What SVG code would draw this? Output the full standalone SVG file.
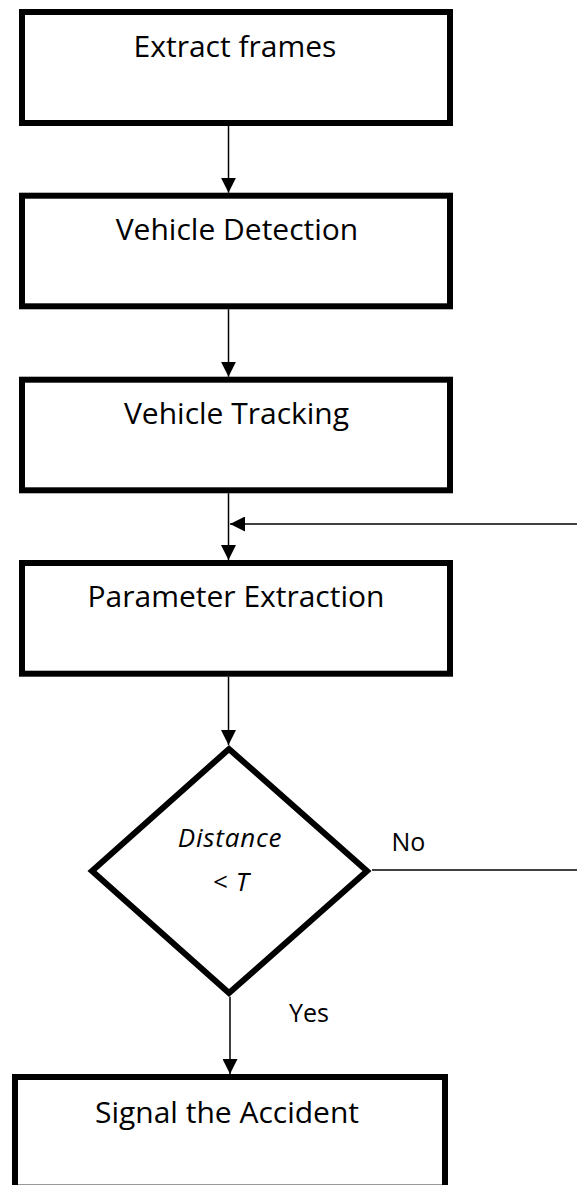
<svg xmlns="http://www.w3.org/2000/svg" width="577" height="1185" viewBox="0 0 577 1185">
<style>
.box{fill:#fff;stroke:#000;stroke-width:6;stroke-linejoin:miter}
.conn{fill:none;stroke:#000;stroke-width:1.5}
.t{font-family:"Open Sans","Liberation Sans",sans-serif;font-size:30px;fill:#000;text-anchor:middle}
.lbl{font-family:"Open Sans","Liberation Sans",sans-serif;font-size:25px;fill:#000}
.it{font-style:italic;text-anchor:middle;font-size:26px;letter-spacing:0.8px}
</style>
<defs>
<marker id="ah" markerUnits="userSpaceOnUse" markerWidth="15" markerHeight="15" viewBox="0 0 15 15" refX="15" refY="7.5" orient="auto"><path d="M0,0 L15,7.5 L0,15 z" fill="#000"/></marker>
</defs>
<rect width="577" height="1185" fill="#fff"/>
<g id="connectors">
<line class="conn" x1="228.5" y1="126" x2="228.5" y2="192.7" marker-end="url(#ah)"/>
<line class="conn" x1="228.5" y1="309.3" x2="228.5" y2="376.7" marker-end="url(#ah)"/>
<line class="conn" x1="228.5" y1="493.3" x2="228.5" y2="560" marker-end="url(#ah)"/>
<line class="conn" x1="577" y1="524" x2="230" y2="524" marker-end="url(#ah)"/>
<line class="conn" x1="228.5" y1="676.7" x2="228.5" y2="745" marker-end="url(#ah)"/>
<line class="conn" x1="372" y1="870" x2="577" y2="870"/>
<line class="conn" x1="230" y1="996.7" x2="230" y2="1074" marker-end="url(#ah)"/>
<text class="lbl" x="391.5" y="851">No</text>
<text class="lbl" x="289" y="1021.7">Yes</text>
</g>
<g id="extract">
<rect class="box" x="22" y="12" width="428" height="111"/>
<text class="t" x="235" y="57.3">Extract frames</text>
</g>
<g id="detection">
<rect class="box" x="22" y="195.7" width="428" height="110.6"/>
<text class="t" x="237" y="240">Vehicle Detection</text>
</g>
<g id="tracking">
<rect class="box" x="22" y="379.7" width="428" height="110.6"/>
<text class="t" x="236.5" y="424">Vehicle Tracking</text>
</g>
<g id="parameter">
<rect class="box" x="22" y="563" width="428" height="110.7"/>
<text class="t" x="236" y="606.7">Parameter Extraction</text>
</g>
<g id="decision">
<polygon class="box" points="229,749 367,871 229,993 92,871"/>
<text class="lbl it" x="230" y="847">Distance</text>
<text class="lbl it" x="231" y="891">&lt; T</text>
</g>
<g id="signal">
<rect class="box" x="15" y="1077" width="430" height="110.6"/>
<text class="t" x="227" y="1123.3">Signal the Accident</text>
</g>
</svg>
